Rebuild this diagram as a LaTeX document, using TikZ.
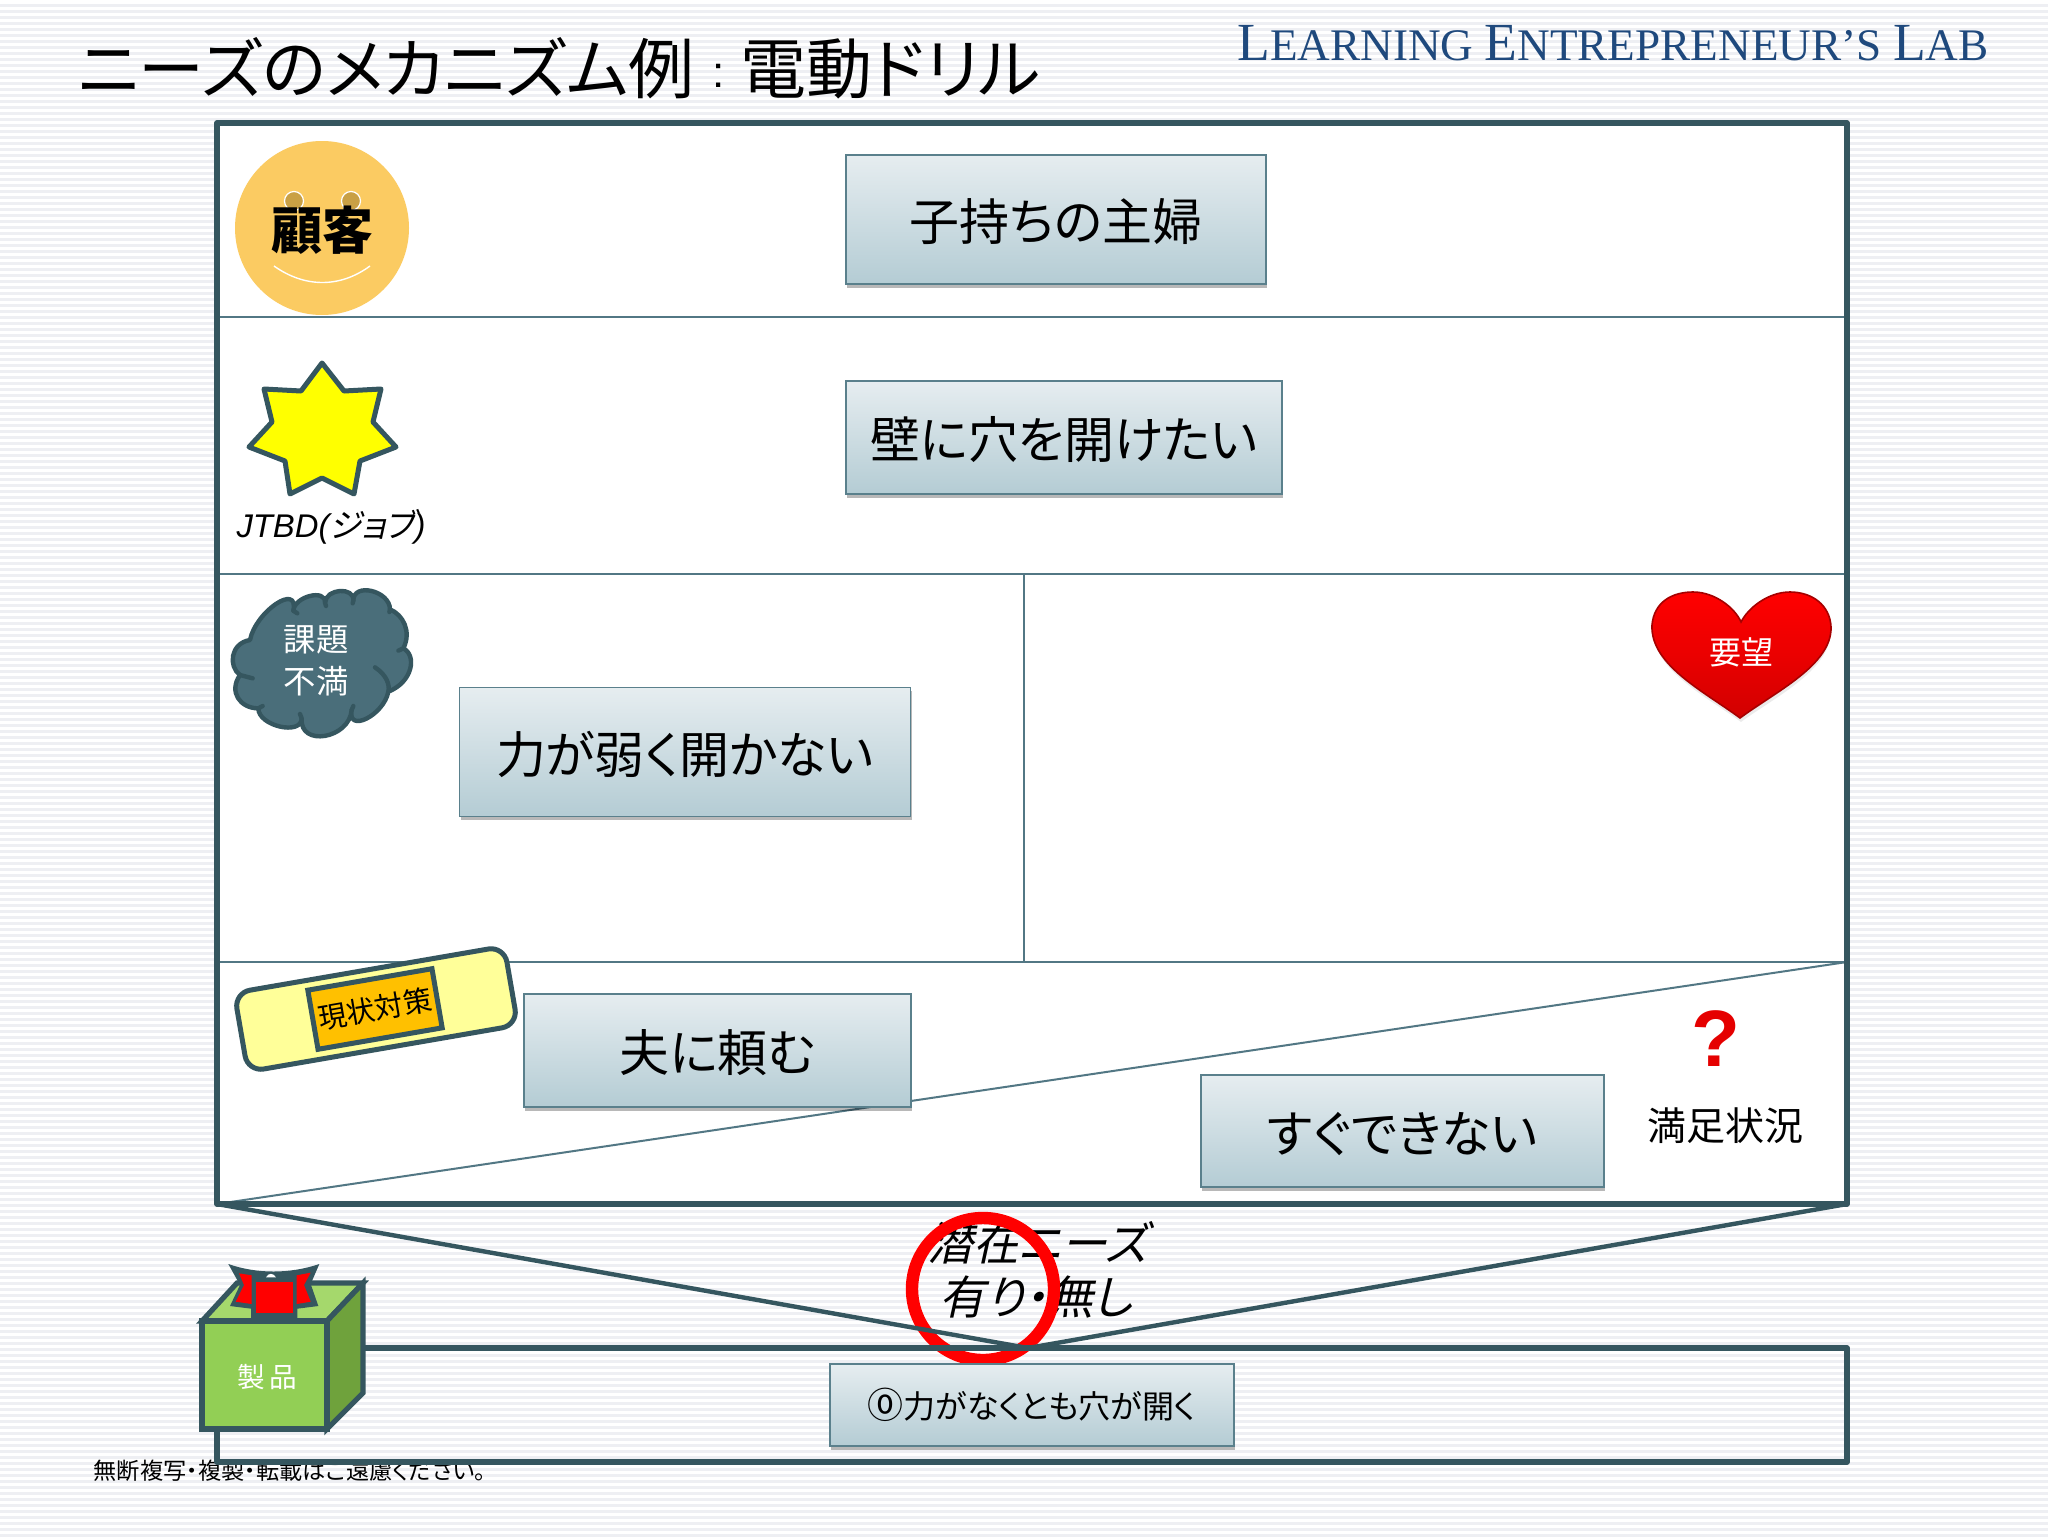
\documentclass[tikz,border=0pt]{standalone}
\usepackage{fontspec}
\usetikzlibrary{calc,shadows,shapes.geometric}
\setmainfont[RawFeature=+palt]{Noto Sans CJK JP}
\newfontfamily\jit[FakeSlant=0.22,RawFeature=+palt]{Noto Sans CJK JP}
\newfontfamily\lsit{Liberation Sans Italic}
\newfontfamily\lsb{Liberation Sans Bold}
\newfontfamily\lsr{Liberation Sans}
\newfontfamily\lser{Liberation Serif}
\definecolor{frameC}{HTML}{35565F}
\definecolor{thinC}{HTML}{527784}
\definecolor{stripeC}{HTML}{EEEFF3}
\definecolor{boxTop}{HTML}{E6EDF0}
\definecolor{boxBot}{HTML}{B4CCD4}
\definecolor{boxLine}{HTML}{5A808C}
\definecolor{faceC}{HTML}{FBCB62}
\definecolor{eyeC}{HTML}{C9A045}
\definecolor{cloudC}{HTML}{4A6E7A}
\definecolor{tapeC}{HTML}{FFFF99}
\definecolor{padC}{HTML}{FFC000}
\definecolor{brandC}{HTML}{1F497D}
\definecolor{frontC}{HTML}{92CF55}
\definecolor{topC}{HTML}{A5D86C}
\definecolor{sideC}{HTML}{6FA23C}
\definecolor{starC}{HTML}{FFFF00}
\newcommand\cb[3]{.. controls ($#1+1.333*#2-0.667*#1-0.667*#3$) and ($#3+1.333*#2-0.667*#1-0.667*#3$) .. #3}
\tikzset{
  heavy/.style={draw=frameC,line width=2.6pt,line join=round},
  thinline/.style={draw=thinC,line width=1pt},
  bluebox/.style={draw=boxLine,line width=0.8pt,top color=boxTop,bottom color=boxBot,inner sep=0pt,
    drop shadow={shadow xshift=0.6pt,shadow yshift=-1.8pt,opacity=0.28,fill=black}},
  boxtext/.style={font=\fontsize{25pt}{28pt}\selectfont,text=black,text height=25pt,text depth=4pt},
  whitetext/.style={text=white,align=center},
  itlabel/.style={font=\jit\fontsize{23pt}{26pt}\selectfont,text=black,align=center},
}
\begin{document}
\begin{tikzpicture}[x=0.5pt,y=-0.5pt]
\useasboundingbox (0,0) rectangle (2048,1536);
\fill[white] (0,0) rectangle (2048,1536);
\foreach \yy in {4,10,...,1534} {\fill[stripeC] (0,\yy) rectangle (2048,\yy+3);}
% named corners
\coordinate (tl) at (217,123); \coordinate (tr) at (1847,123);
\coordinate (bl) at (217,1204); \coordinate (br) at (1847,1204);
\coordinate (vtip) at (1028,1348);
\coordinate (lowtl) at (217,1348); \coordinate (lowtr) at (1847,1348);
\coordinate (lowbl) at (217,1462); \coordinate (lowbr) at (1847,1462);
% title and brand
\node[anchor=west,inner sep=0pt,font=\fontsize{33pt}{35pt}\selectfont] (title) at (78,68) {ニーズのメカニズム例{\lsr\fontsize{22pt}{24pt}\selectfont\hspace{9pt}\raisebox{3pt}{:}\hspace{8pt}}電動ドリル};
\node[anchor=base west,inner sep=0pt,text=brandC] (brand) at (1237,61) {\lser\fontsize{26.8pt}{28pt}\selectfont L\fontsize{22.6pt}{28pt}\selectfont EARNING \fontsize{26.8pt}{28pt}\selectfont E\fontsize{22.6pt}{28pt}\selectfont NTREPRENEUR’S \fontsize{26.8pt}{28pt}\selectfont L\fontsize{22.6pt}{28pt}\selectfont AB};
% main panel
\fill[white] (tl) rectangle (br);
\draw[thinline] (217,317) -- (1847,317);
\draw[thinline] (217,574) -- (1847,574);
\draw[thinline] (217,962) -- (1847,962);
\draw[thinline] (1024,574) -- (1024,962);
\draw[thinline] (bl) -- (1847,962);
\draw[heavy] (tl) rectangle (br);
% copyright
\node[inner sep=0pt,font=\fontsize{11.6pt}{13pt}\selectfont] (copy) at (290,1471) {無断複写・複製・転載はご遠慮ください。};
% latent needs text and ring
\node[itlabel] (latent) at (1037,1243) {潜在ニーズ};
\node[itlabel] (yesno) at (1036,1297) {有り・無し};
\draw[draw=red,line width=6.2pt] (983,1289) circle (71);
% lower band and V
\draw[heavy] (lowtl) rectangle (lowbr);
\draw[draw=frameC,line width=2.2pt] (bl) -- (vtip) -- (br);
% face
\fill[faceC] (322,228) circle (87);
\draw[white,line width=0.6pt,fill=eyeC] (294,201) circle (9.5);
\draw[white,line width=0.6pt,fill=eyeC] (351,201) circle (9.5);
\draw[white,line width=0.7pt] (274,266) .. controls (305,288) and (340,288) .. (370,266);
\node[inner sep=0pt,font=\bfseries\fontsize{25.5pt}{28pt}\selectfont] (cust) at (322,230) {顧客};
% star
\draw[draw=frameC,line width=2.5pt,line join=round,fill=starC]
 (322,363)--(344,391)--(381,389)--(373,422)--(396,447)--(360,461)--(354,494)--(322,478)--(290,494)--(285,461)--(249,447)--(272,422)--(264,389)--(301,391)--cycle;
\node[inner sep=0pt] (jtbd) at (331,527) {{\lsit\fontsize{16.4pt}{20pt}\selectfont JTBD(}{\jit\fontsize{16.4pt}{20pt}\selectfont ジョブ}{\lsit\fontsize{16.4pt}{20pt}\selectfont )}};
% cloud
\begin{scope}[x=0.16667pt,y=-0.16667pt,xshift=95pt,yshift=-280pt]
\draw[draw=frameC,line width=2.2pt,fill=cloudC,line join=round]
 (180,240) \cb{(180,240)}{(258,132)}{(310,152)} \cb{(310,152)}{(360,108)}{(405,128)} \cb{(405,128)}{(450,93)}{(490,122)}
 \cb{(490,122)}{(545,93)}{(600,148)} .. controls (640,165) and (665,215) .. (640,265) .. controls (680,285) and (670,365) .. (595,395)
 \cb{(595,395)}{(530,476)}{(485,450)} \cb{(485,450)}{(405,528)}{(335,475)} \cb{(335,475)}{(270,500)}{(205,445)}
 .. controls (150,445) and (115,395) .. (150,345) .. controls (115,320) and (120,250) .. (180,240) -- cycle;
\draw[draw=frameC,line width=2.2pt,line cap=round] (150,345)--(188,355);
\draw[draw=frameC,line width=2.2pt,line cap=round] (555,322) .. controls (590,345) and (600,375) .. (595,395);
\draw[draw=frameC,line width=2.2pt,line cap=round] (640,265)--(625,272);
\draw[draw=frameC,line width=2.2pt,line cap=round] (310,152)--(322,160);
\draw[draw=frameC,line width=2.2pt,line cap=round] (405,128)--(408,138);
\draw[draw=frameC,line width=2.2pt,line cap=round] (490,122)--(488,130);
\draw[draw=frameC,line width=2.2pt,line cap=round] (600,148)--(598,156);
\draw[draw=frameC,line width=2.2pt,line cap=round] (335,475)--(330,462);
\draw[draw=frameC,line width=2.2pt,line cap=round] (485,450)--(490,438);
\draw[draw=frameC,line width=2.2pt,line cap=round] (205,445)--(218,438);
\end{scope}
\node[whitetext,inner sep=0pt,font=\fontsize{16.2pt}{21pt}\selectfont] (cloudlabel) at (316,661) {課題\\不満};
% heart
\fill[black,opacity=0.08] (1741,722) .. controls (1712,700) and (1652,670) .. (1654,632) -- (1830,632) .. controls (1832,670) and (1770,700) .. (1741,722) -- cycle;
\draw[draw=red!65!black,line width=0.8pt,top color=red,bottom color=red!82!black,middle color=red!92!black]
 (1740,718) .. controls (1705,692) and (1650,665) .. (1652,625) .. controls (1654,602) and (1672,592) .. (1693,592)
 .. controls (1715,592) and (1735,608) .. (1741,622) .. controls (1748,608) and (1768,592) .. (1790,592)
 .. controls (1812,592) and (1830,605) .. (1831,627) .. controls (1832,665) and (1775,692) .. (1740,718) -- cycle;
\node[whitetext,inner sep=0pt,font=\fontsize{16pt}{18pt}\selectfont] (wish) at (1741,652) {要望};
% tape
\node[rotate=9.8,draw=frameC,line width=2.5pt,fill=tapeC,rounded corners=8pt,minimum width=137pt,minimum height=40pt,inner sep=0pt] (tape) at (376,1009) {};
\node[rotate=9.8,draw=frameC,line width=2.5pt,fill=padC,minimum width=63pt,minimum height=30pt,inner sep=0pt,font=\fontsize{14.3pt}{15pt}\selectfont] (pad) at (375,1009) {現状対策\hspace{5pt}};
% blue boxes
\node[bluebox,minimum width=210pt,minimum height=64.5pt,boxtext] (b1) at (1056,219.5) {子持ちの主婦};
\node[bluebox,minimum width=218pt,minimum height=56.5pt,boxtext] (b2) at (1064,437.5) {壁に穴を開けたい};
\node[bluebox,minimum width=225.5pt,minimum height=64.5pt,boxtext] (b3) at (685,752) {力が弱く開かない};
\node[bluebox,minimum width=193.5pt,minimum height=56.5pt,boxtext] (b4) at (717.5,1050.5) {夫に頼む};
\node[bluebox,minimum width=201.5pt,minimum height=56pt,boxtext] (b5) at (1402.5,1131) {すぐできない};
\node[bluebox,minimum width=202pt,minimum height=41pt,font=\fontsize{16pt}{18pt}\selectfont] (b6) at (1032,1405) {{\fontsize{18pt}{18pt}\selectfont ⓪}力がなくとも穴が開く};
% question and status
\node[inner sep=0pt,text=red!90!black,font=\lsb\fontsize{40pt}{42pt}\selectfont] (qm) at (1716,1039) {?};
\node[inner sep=0pt,font=\fontsize{19.5pt}{22pt}\selectfont] (status) at (1725,1126) {満足状況};
% product box
\draw[draw=frameC,line width=2.6pt,line join=miter,fill=topC] (202,1321) -- (237,1283) -- (363,1283) -- (327,1321) -- cycle;
\draw[draw=frameC,line width=2.6pt,line join=miter,fill=sideC] (327,1321) -- (363,1283) -- (363,1393) -- (327,1429) -- cycle;
\draw[draw=frameC,line width=2.6pt,line join=miter,fill=frontC] (202,1321) rectangle (327,1429);
\node[whitetext,inner sep=0pt,font=\fontsize{13.8pt}{15pt}\selectfont] (prod) at (267,1377) {製\,品};
% ribbon
\begin{scope}[x=0.16667pt,y=-0.16667pt,xshift=40pt,yshift=-600pt]
\fill[frameC] (445,192) .. controls (530,222) and (630,222) .. (718,192) -- (692,252) -- (715,318) -- (652,326) -- (652,368) -- (513,368) -- (513,326) -- (450,318) -- (480,255) -- cycle;
\fill[red] (477,220) -- (515,226) -- (515,312) -- (467,305) -- (492,255) -- cycle;
\fill[red] (692,218) -- (650,226) -- (650,312) -- (692,305) -- (672,255) -- cycle;
\fill[red] (528,245) -- (640,245) -- (640,338) -- (528,338) -- cycle;
\fill[white] (558,232) .. controls (565,218) and (580,218) .. (588,232) -- cycle;
\end{scope}
\end{tikzpicture}
\end{document}
